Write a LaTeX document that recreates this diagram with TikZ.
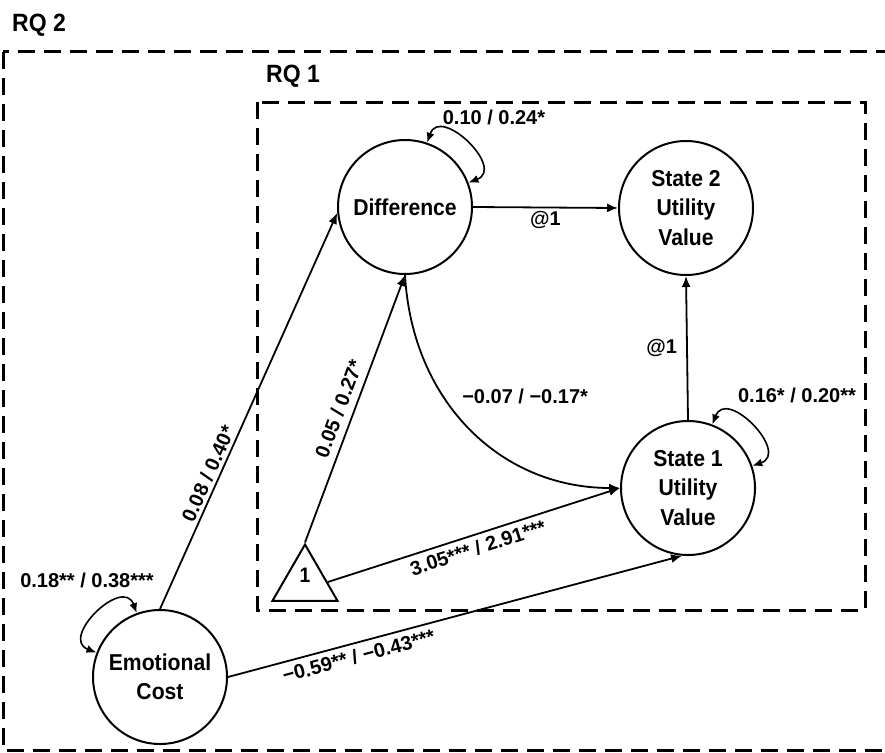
\documentclass[tikz,border=0pt]{standalone}
\usepackage{fontspec}
\setmainfont{Liberation Sans}[FakeStretch=0.92]
\newfontfamily\labfont{Liberation Sans}
\usetikzlibrary{arrows.meta,shapes.geometric}
\begin{document}
\begin{tikzpicture}[x=1pt,y=1pt,
  latent/.style={circle,draw,line width=2pt,minimum size=134pt,inner sep=0pt,align=center,font=\fontsize{23}{29.5}\selectfont\bfseries},
  arrowline/.style={line width=1.8pt,-{Latex[length=11pt,width=9pt]}},
  selfloop/.style={line width=1.6pt,{Latex[length=10pt,width=8pt]}-{Latex[length=10pt,width=8pt]}},
  lab/.style={font=\labfont\fontsize{20}{24}\selectfont\bfseries,inner sep=3pt},
  dashbox/.style={line width=3pt,dash pattern=on 17pt off 9pt},
  rq/.style={font=\fontsize{25}{30}\selectfont\bfseries,inner sep=0pt,anchor=west}
]
\useasboundingbox (0,0) rectangle (885,-752);
\clip (0,0) rectangle (885,-752);
% boxes
\draw[dashbox] (3,-52) rectangle (920,-750);
\draw[dashbox] (257,-102) rectangle (865,-610);
\node[rq] (rq2) at (12,-25) {RQ 2};
\node[rq] (rq1) at (266,-76) {RQ 1};
% nodes
\node[latent] (diff) at (405,-207) {Difference};
\node[latent] (s2) at (686,-208) {State 2\\Utility\\Value};
\node[latent] (s1) at (688,-488) {State 1\\Utility\\Value};
\node[latent] (ec) at (160,-677) {Emotional\\Cost};
\node[regular polygon,regular polygon sides=3,draw,line width=2pt,minimum size=75pt,inner sep=0pt] (tri) at (305,-582) {};
\node[font=\fontsize{21}{24}\selectfont\bfseries,inner sep=0pt] (one) at (305,-575) {1};
% paths
\draw[arrowline] (ec.north) -- node[lab,sloped,above,pos=0.33] {0.08 / 0.40*} (diff.185);
\draw[arrowline] (tri.corner 1) -- node[lab,sloped,above,pos=0.48,inner sep=7pt] {0.05 / 0.27*} (diff.south);
\draw[arrowline] (tri.east) -- node[lab,sloped,below,pos=0.5,inner sep=5pt] {3.05*** / 2.91***} (s1.west);
\draw[arrowline] (diff.south) .. controls +(7,-126) and +(-120,0) .. node[lab,pos=0.5,xshift=55pt,yshift=32pt] {−0.07 / −0.17*} (s1.west);
\draw[arrowline] (ec.east) -- node[lab,sloped,below,pos=0.28,inner sep=5pt] {−0.59** / −0.43***} (s1.265);
\draw[arrowline] (diff.east) -- node[lab,below] {@1} (s2.west);
\draw[arrowline] (s1.north) -- node[lab,left,xshift=-6pt] {@1} (s2.south);
% self loops
\draw[selfloop] (diff.71) .. controls +(71:40pt) and +(21:40pt) .. (diff.21);
\draw[selfloop] (s1.69) .. controls +(69:40pt) and +(19:40pt) .. (s1.19);
\draw[selfloop] (ec.110) .. controls +(110:40pt) and +(159:40pt) .. (ec.159);
\node[lab] (ldiff) at (494,-117) {0.10 / 0.24*};
\node[lab] (ls1) at (797,-395) {0.16* / 0.20**};
\node[lab] (lec) at (87,-580) {0.18** / 0.38***};
\end{tikzpicture}
\end{document}
